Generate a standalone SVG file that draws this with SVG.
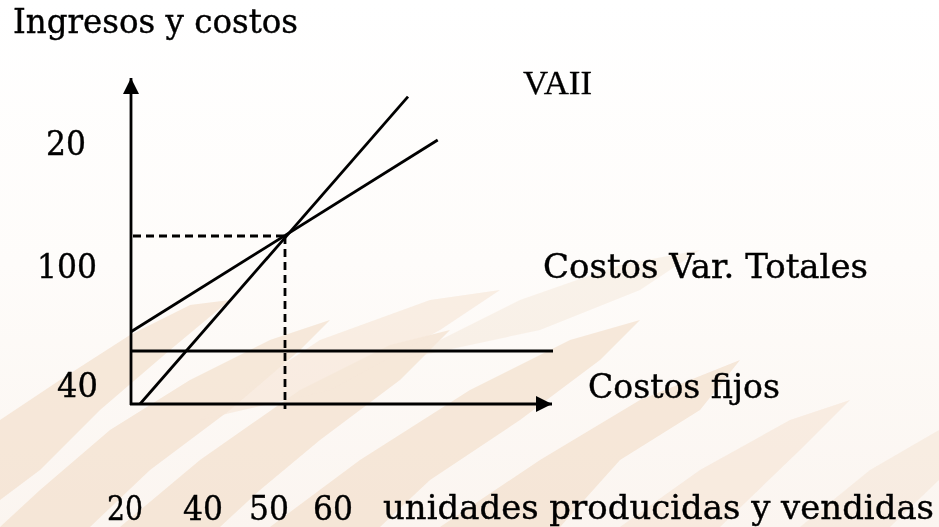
<svg xmlns="http://www.w3.org/2000/svg" width="939" height="527" viewBox="0 0 939 527">
  <defs>
    <marker id="arrow" markerUnits="userSpaceOnUse" markerWidth="17" markerHeight="16" refX="16" refY="8" orient="auto">
      <path d="M0,0 L16,8 L0,16 z" fill="#000"/>
    </marker>
    <linearGradient id="bgfade" x1="0" y1="0" x2="0" y2="1">
      <stop offset="0" stop-color="#ffffff"/>
      <stop offset="0.5" stop-color="#fefcfa"/>
      <stop offset="1" stop-color="#fbf5f0"/>
    </linearGradient>
  </defs>
  <style>
    .ax { stroke: #000; stroke-width: 2.8; fill: none; }
    .ln { stroke: #000; stroke-width: 2.8; fill: none; }
    .dash { stroke: #000; stroke-width: 2.8; fill: none; stroke-dasharray: 8 5; }
    .t { font-family: "DejaVu Serif", "Liberation Serif", serif; font-size: 34px; fill: #000; stroke: #000; stroke-width: 0.4; }
    .tr { font-family: "Liberation Serif", "Times New Roman", serif; font-size: 34px; fill: #000; stroke: #000; stroke-width: 0.3; }
    .brush { fill: #f2dcc6; }
  </style>

  <!-- background -->
  <rect x="0" y="0" width="939" height="527" fill="url(#bgfade)"/>
  <g id="background-brush" opacity="0.6">
    <polygon class="brush" points="0,420 60,380 130,335 190,305 230,300 170,350 100,410 40,470 0,500"/>
    <polygon class="brush" points="0,527 40,490 110,430 190,380 270,340 330,320 300,350 230,410 150,470 90,527"/>
    <polygon class="brush" points="120,527 200,460 300,390 390,345 450,330 400,380 320,440 260,490 220,527"/>
    <polygon class="brush" opacity="0.7" points="200,420 320,340 430,300 500,290 440,330 330,390"/>
    <polygon class="brush" points="270,527 360,460 470,390 570,340 640,320 600,360 520,420 430,480 380,527"/>
    <polygon class="brush" opacity="0.5" points="400,360 520,300 620,265 700,250 640,290 540,330"/>
    <polygon class="brush" points="440,527 540,460 640,400 740,360 700,410 620,460 560,527"/>
    <polygon class="brush" opacity="0.7" points="620,527 700,470 790,420 850,400 800,450 720,527"/>
    <polygon class="brush" opacity="0.6" points="800,527 870,470 939,430 939,480 890,527"/>
  </g>

  <!-- connectors -->
  <g id="connectors">
    <line class="ax" x1="131" y1="405" x2="131" y2="78" marker-end="url(#arrow)"/>
    <line class="ax" x1="130" y1="404" x2="552" y2="404" marker-end="url(#arrow)"/>
    <line class="ln" x1="131" y1="351" x2="553" y2="351"/>
    <line class="ln" x1="131" y1="331.7" x2="437.7" y2="140"/>
    <line class="ln" x1="140" y1="404" x2="408" y2="96.7"/>
    <line class="dash" x1="133" y1="236" x2="285" y2="236"/>
    <line class="dash" x1="285" y1="236" x2="285" y2="409"/>
  </g>

  <!-- labels -->
  <g id="label-ingresos"><text class="t" x="13" y="33" textLength="285" lengthAdjust="spacingAndGlyphs">Ingresos y costos</text></g>
  <g id="label-vaii"><text class="tr" x="523" y="94" textLength="69" lengthAdjust="spacingAndGlyphs">VAII</text></g>
  <g id="label-y20"><text class="t" x="46" y="155" textLength="40" lengthAdjust="spacingAndGlyphs">20</text></g>
  <g id="label-y100"><text class="t" x="37" y="278" textLength="60" lengthAdjust="spacingAndGlyphs">100</text></g>
  <g id="label-y40"><text class="t" x="57" y="397" textLength="41" lengthAdjust="spacingAndGlyphs">40</text></g>
  <g id="label-cvt"><text class="t" x="543" y="278" textLength="325" lengthAdjust="spacingAndGlyphs">Costos Var. Totales</text></g>
  <g id="label-cf"><text class="t" x="588" y="398" textLength="192" lengthAdjust="spacingAndGlyphs">Costos fijos</text></g>
  <g id="label-x20"><text class="t" x="107" y="520" textLength="36" lengthAdjust="spacingAndGlyphs">20</text></g>
  <g id="label-x40"><text class="t" x="183" y="520" textLength="40" lengthAdjust="spacingAndGlyphs">40</text></g>
  <g id="label-x50"><text class="t" x="249" y="520" textLength="40" lengthAdjust="spacingAndGlyphs">50</text></g>
  <g id="label-x60"><text class="t" x="313" y="520" textLength="40" lengthAdjust="spacingAndGlyphs">60</text></g>
  <g id="label-unidades"><text class="t" x="383" y="519" textLength="551" lengthAdjust="spacingAndGlyphs">unidades producidas y vendidas</text></g>
</svg>
